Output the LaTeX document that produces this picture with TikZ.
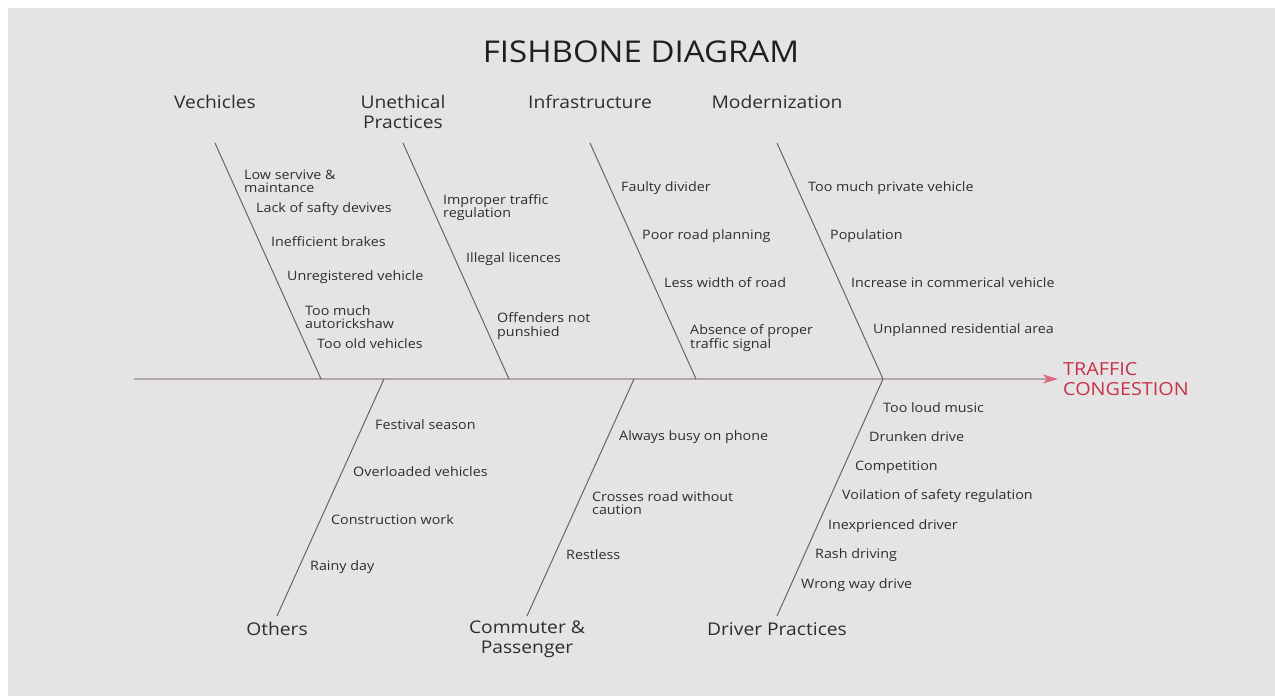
\documentclass[tikz,border=0pt]{standalone}
\usepackage{fontspec}
\setmainfont{Open Sans}[FakeStretch=1.1]
\usetikzlibrary{arrows.meta}
\definecolor{bg}{HTML}{E4E4E4}
\definecolor{txt}{HTML}{2E2E2E}
\definecolor{bonec}{HTML}{666666}
\definecolor{spinec}{HTML}{B4A4AC}
\definecolor{headc}{HTML}{E06A80}
\definecolor{effc}{HTML}{C8324A}
\tikzset{
  bone/.style={draw=bonec, line width=1pt},
  spine/.style={draw=spinec, line width=1.6pt},
  item/.style={anchor=west, inner sep=0pt, text=txt, align=left, font=\fontsize{13}{13.5}\selectfont},
  cat/.style={inner sep=0pt, text=txt, align=center, font=\fontsize{17.5}{20}\selectfont},
}
\begin{document}
\begin{tikzpicture}[x=1pt,y=-1pt]
\useasboundingbox (0,0) rectangle (1275,696);
\fill[white] (0,0) rectangle (1275,696);
\fill[bg] (8,8) rectangle (1275,696);
\node[text=black!88, inner sep=0pt, font=\fontsize{30}{32}\selectfont] (title) at (641,52) {FISHBONE DIAGRAM};
% spine
\coordinate (tail) at (134,379);
\coordinate (head) at (1058,379);
\draw[spine, -{Stealth[length=15pt,width=9pt,inset=4pt,color=headc]}] (tail) -- (head);
\node[anchor=west, inner sep=0pt, text=effc, align=left, font=\fontsize{18}{19.5}\selectfont] (effect) at (1063,379) {TRAFFIC\\CONGESTION};
% category labels
\node[cat] (cV) at (215,102) {Vechicles};
\node[cat] (cU) at (403,112) {Unethical\\Practices};
\node[cat] (cI) at (590,102) {Infrastructure};
\node[cat] (cM) at (777,102) {Modernization};
\node[cat] (cO) at (277,629) {Others};
\node[cat] (cC) at (527,639) {Commuter \&\\Passenger};
\node[cat] (cD) at (777,629) {Driver Practices};
% bone ends
\coordinate (vT) at (215,143); \coordinate (vB) at (321,379);
\coordinate (uT) at (403,143); \coordinate (uB) at (509,379);
\coordinate (iT) at (590,143); \coordinate (iB) at (696,379);
\coordinate (mT) at (777,143); \coordinate (mB) at (883,379);
\coordinate (oT) at (384,379); \coordinate (oB) at (277,616);
\coordinate (cT) at (634,379); \coordinate (cB) at (527,616);
\coordinate (dT) at (883,379); \coordinate (dB) at (777,616);
\draw[bone] (vT) -- (vB);
\draw[bone] (uT) -- (uB);
\draw[bone] (iT) -- (iB);
\draw[bone] (mT) -- (mB);
\draw[bone] (oT) -- (oB);
\draw[bone] (cT) -- (cB);
\draw[bone] (dT) -- (dB);
% Vehicles
\node[item] (v1) at (244,181.5) {Low servive \&\\maintance};
\node[item] (v2) at (256,209) {Lack of safty devives};
\node[item] (v3) at (271,242) {Inefficient brakes};
\node[item] (v4) at (287,277) {Unregistered vehicle};
\node[item] (v5) at (305,317) {Too much\\autorickshaw};
\node[item] (v6) at (317,344) {Too old vehicles};
% Unethical
\node[item] (u1) at (443,207.5) {Improper traffic\\regulation};
\node[item] (u2) at (466,259) {Illegal licences};
\node[item] (u3) at (497,326) {Offenders not\\punshied};
% Infrastructure
\node[item] (i1) at (621,188) {Faulty divider};
\node[item] (i2) at (642,236) {Poor road planning};
\node[item] (i3) at (664,283) {Less width of road};
\node[item] (i4) at (690,338) {Absence of proper\\traffic signal};
% Modernization
\node[item] (m1) at (808,188) {Too much private vehicle};
\node[item] (m2) at (830,236) {Population};
\node[item] (m3) at (851,283) {Increase in commerical vehicle};
\node[item] (m4) at (873,330) {Unplanned residential area};
% Others
\node[item] (o1) at (375,425) {Festival season};
\node[item] (o2) at (353,472) {Overloaded vehicles};
\node[item] (o3) at (331,520) {Construction work};
\node[item] (o4) at (310,567) {Rainy day};
% Commuter
\node[item] (c1) at (619,437) {Always busy on phone};
\node[item] (c2) at (592,503) {Crosses road without\\caution};
\node[item] (c3) at (566,555) {Restless};
% Driver
\node[item] (d1) at (883,408) {Too loud music};
\node[item] (d2) at (869,437) {Drunken drive};
\node[item] (d3) at (855,467) {Competition};
\node[item] (d4) at (842,496) {Voilation of safety regulation};
\node[item] (d5) at (828,526) {Inexprienced driver};
\node[item] (d6) at (815,555) {Rash driving};
\node[item] (d7) at (801,585) {Wrong way drive};
\end{tikzpicture}
\end{document}
